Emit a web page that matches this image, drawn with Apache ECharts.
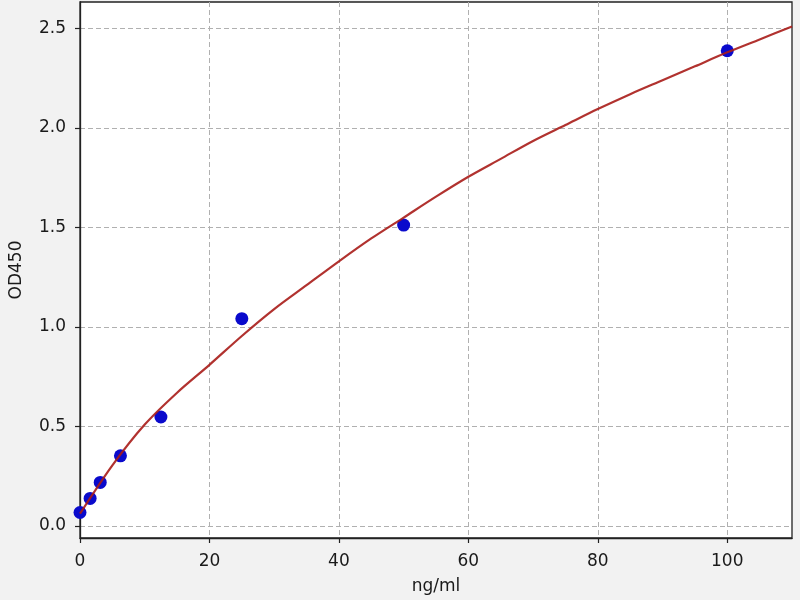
<!DOCTYPE html>
<html>
<head>
<meta charset="utf-8">
<script src="https://cdn.jsdelivr.net/npm/echarts@6/dist/echarts.min.js"></script>
<style>
html,body{margin:0;padding:0;background:#f2f2f2;}
#c{width:800px;height:600px;}
</style>
</head>
<body>
<div id="c"></div>
<script>
// Measured standards (ng/ml, OD450)
const conc = [0, 1.5625, 3.125, 6.25, 12.5, 25, 50, 100];
const od = [0.068, 0.139, 0.219, 0.353, 0.548, 1.042, 1.512, 2.388];

// Fitted curve
const curveX = [0, 5, 10, 15, 20, 25, 30, 35, 40, 45, 50, 55, 60, 65, 70, 75, 80, 85, 90, 95, 100, 105, 110];
const curveY = [0.062, 0.305, 0.51, 0.67, 0.81, 0.955, 1.09, 1.21, 1.33, 1.445, 1.55, 1.655, 1.755, 1.845, 1.935, 2.015, 2.095, 2.17, 2.24, 2.31, 2.38, 2.445, 2.51];

const xTicks = [0, 20, 40, 60, 80, 100];
const yTicks = [0, 0.5, 1.0, 1.5, 2.0, 2.5];

const chart = echarts.init(document.getElementById('c'));
const font = 'DejaVu Sans';
chart.setOption({
  backgroundColor: '#f2f2f2',
  animation: false,
  grid: {
    left: 77, right: 8, top: 2, bottom: 61,
    show: true, backgroundColor: '#ffffff', borderColor: '#222222', borderWidth: 1.3
  },
  xAxis: {
    type: 'value', min: 0, max: 110,
    name: 'ng/ml', nameLocation: 'middle', nameGap: 40,
    nameTextStyle: {fontFamily: font, fontSize: 17, color: '#1a1a1a'},
    axisLine: {show: true, onZero: false, lineStyle: {color: '#222', width: 1.3}},
    axisTick: {show: true, length: 5, customValues: xTicks, lineStyle: {color: '#222', width: 1.2}},
    axisLabel: {customValues: xTicks, margin: 15, fontFamily: font, fontSize: 17, color: '#1a1a1a'},
    splitLine: {show: true, lineStyle: {color: '#b0b0b0', type: [5, 3], width: 1}}
  },
  yAxis: {
    type: 'value', min: -0.06, max: 2.633,
    name: 'OD450', nameLocation: 'middle', nameGap: 55,
    nameTextStyle: {fontFamily: font, fontSize: 17, color: '#1a1a1a'},
    axisLine: {show: true, onZero: false, lineStyle: {color: '#222', width: 1.3}},
    axisTick: {show: true, length: 5, customValues: yTicks, lineStyle: {color: '#222', width: 1.2}},
    axisLabel: {customValues: yTicks, margin: 14, fontFamily: font, fontSize: 17, color: '#1a1a1a',
      formatter: v => v.toFixed(1)},
    splitLine: {show: true, lineStyle: {color: '#b0b0b0', type: [5, 3], width: 1}}
  },
  series: [
    {
      type: 'scatter', z: 2,
      data: conc.map((x, i) => [x, od[i]]),
      symbolSize: 13,
      itemStyle: {color: '#0a0acc', opacity: 1}
    },
    {
      type: 'line', z: 3, smooth: 0.3, symbol: 'none',
      data: curveX.map((x, i) => [x, curveY[i]]),
      lineStyle: {color: '#a81c18', width: 2.2, opacity: 0.9}
    }
  ]
});
</script>
</body>
</html>
